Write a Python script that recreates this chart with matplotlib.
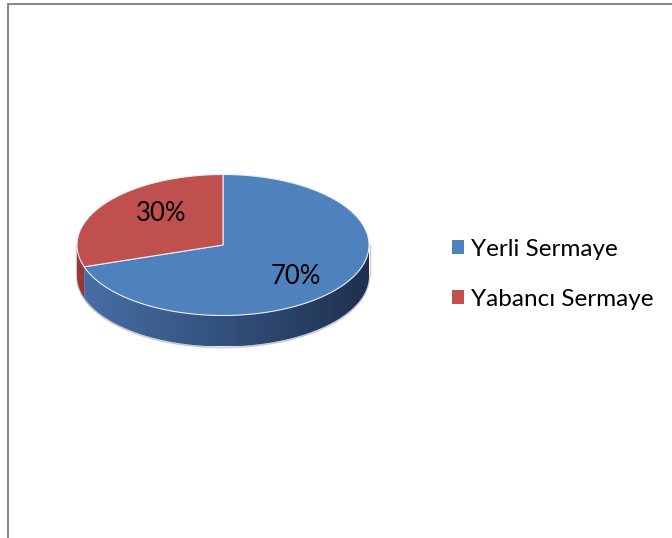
import numpy as np
import matplotlib
matplotlib.use("Agg")
import matplotlib.pyplot as plt
from matplotlib.patches import Polygon, Patch

plt.rcParams['font.family'] = ['Lato', 'DejaVu Sans']

labels = ['Yerli Sermaye', 'Yabancı Sermaye']
values = [70, 30]
top_colors = ['#4F81BD', '#C0504D']
side_light = [(0.28, 0.44, 0.66), (0.60, 0.22, 0.21)]
side_dark = [(0.12, 0.19, 0.31), (0.45, 0.16, 0.15)]

# pie geometry in pixel units
cx, cy = 223, 245
rx, ry = 146, 70.5
depth = 31

fig = plt.figure(figsize=(6.72, 5.38), dpi=100)
ax = fig.add_axes([0, 0, 1, 1])
ax.set_xlim(0, 672)
ax.set_ylim(538, 0)
ax.axis('off')


def pt(t, dy=0.0):
    return cx + rx * np.cos(t), cy - ry * np.sin(t) + dy


# slices go clockwise from 12 o'clock
fracs = np.array(values) / sum(values)
start = np.pi / 2
wedges = []
for f in fracs:
    end = start - f * 2 * np.pi
    wedges.append((end, start))
    start = end

# side walls (only the front half is visible), shaded left to right
gx = np.linspace(0, 1, 400)
for (a0, a1), cl, cd in zip(wedges, side_light, side_dark):
    grad = np.array(cl)[None, :] * (1 - gx[:, None]) + np.array(cd)[None, :] * gx[:, None]
    for k in (-1, 0, 1):
        lo = max(a0 + k * 2 * np.pi, np.pi)
        hi = min(a1 + k * 2 * np.pi, 2 * np.pi)
        if hi <= lo:
            continue
        ts = np.linspace(lo, hi, 200)
        xt, yt = pt(ts)
        xb, yb = pt(ts[::-1], dy=depth)
        side = Polygon(list(zip(xt, yt)) + list(zip(xb, yb)), closed=True,
                       facecolor='none', edgecolor='none')
        ax.add_patch(side)
        im = ax.imshow(grad[None, :, :], extent=(cx - rx, cx + rx, cy + ry + depth, cy - ry),
                       aspect='auto', interpolation='bilinear', zorder=2)
        im.set_clip_path(side)

ax.set_xlim(0, 672)
ax.set_ylim(538, 0)

# faint outline under the pie
tb = np.linspace(np.pi, 2 * np.pi, 200)
bx, by = pt(tb, dy=depth + 1)
ax.plot(bx, by, color='#cccccc', lw=1.2, zorder=1)
ax.plot([cx - rx - 1, cx - rx - 1], [cy, cy + depth], color='#cccccc', lw=1.0, zorder=1)
ax.plot([cx + rx + 1, cx + rx + 1], [cy, cy + depth], color='#cccccc', lw=1.0, zorder=1)

# top faces
for (a0, a1), col in zip(wedges, top_colors):
    ts = np.linspace(a0, a1, 200)
    xs, ys = pt(ts)
    verts = [(cx, cy)] + list(zip(xs, ys))
    ax.add_patch(Polygon(verts, closed=True, facecolor=col,
                         edgecolor='#e8edf5', lw=0.8, zorder=3))

# percentage labels
for (a0, a1), v in zip(wedges, values):
    m = (a0 + a1) / 2
    lx = cx + 0.57 * rx * np.cos(m) + 5
    ly = cy - 0.75 * ry * np.sin(m)
    ax.text(lx, ly, '%d%%' % v, ha='center', va='center', fontsize=18.5,
            color='black', zorder=5)

handles = [Patch(facecolor=c, edgecolor='none') for c in top_colors]
ax.legend(handles, labels, loc='center left', bbox_to_anchor=(0.672, 0.490),
          frameon=False, fontsize=17.5, handlelength=0.5, handleheight=0.5,
          handletextpad=0.3, labelspacing=1.2, borderpad=0, borderaxespad=0)

# chart frame
ax.plot([8, 8, 672], [538, 4, 4], color='#8a8a8a', lw=1.5, zorder=6,
        solid_joinstyle='miter')

fig.savefig('out.png', dpi=100)
